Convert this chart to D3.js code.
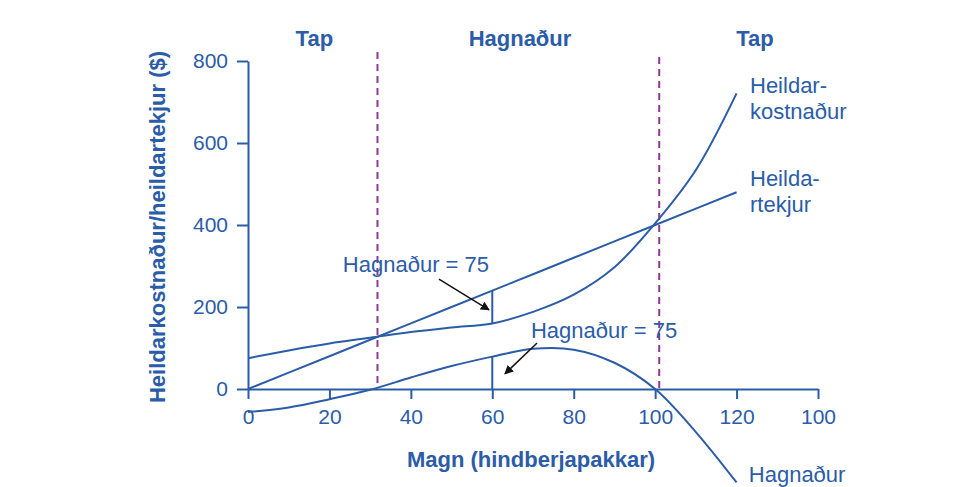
<!DOCTYPE html>
<html>
<head>
<meta charset="utf-8">
<script src="https://cdn.jsdelivr.net/npm/d3@7/dist/d3.min.js"></script>
<style>
  html, body { margin: 0; padding: 0; background: #ffffff; }
  svg { display: block; font-family: "Liberation Sans", Arial, Helvetica, sans-serif; }
</style>
</head>
<body>
<svg id="chart" width="976" height="487"></svg>
<script>
// ---------- data ----------
const quantity   = [0, 10, 20, 30, 40, 50, 60, 70, 80, 90, 100, 110, 120];
const totalCost  = [75, 94, 111, 125, 139, 150, 160, 188, 230, 297, 404, 534, 721];
const totalRev   = [0, 40, 80, 120, 160, 200, 240, 280, 320, 360, 400, 440, 480];
const profit     = [-56, -45, -25, -2, 28, 56, 79, 98, 96, 64, 0, -105, -228];

const xTickValues = [0, 20, 40, 60, 80, 100, 120, 140];
const xTickLabels = ["0", "20", "40", "60", "80", "100", "120", "100"];
const yTickValues = [0, 200, 400, 600, 800];

const breakEven = [31.8, 101];          // dashed lines
const markQ = 60;                        // "Hagnaður = 75" marker

const regionLabels = [
  { text: "Tap", q: 16.3 },
  { text: "Hagnaður", q: 66.8 },
  { text: "Tap", q: 124.5 }
];
const seriesLabels = [
  { lines: ["Heildar-", "kostnaður"], q: 123.3, v: 722 },
  { lines: ["Heilda-", "rtekjur"], q: 123.3, v: 495 },
  { lines: ["Hagnaður"], q: 123.0, v: -226 }
];
const annotations = [
  { text: "Hagnaður = 75", q: 23.3, v: 285, from: [46.9, 268], to: [59.2, 193] },
  { text: "Hagnaður = 75", q: 69.5, v: 124, from: [71.0, 112], to: [63.1, 37] }
];

// ---------- styles ----------
const BLUE = "#2b5ca8";
const PURPLE = "#8e3a97";

const svg = d3.select("#chart");
const x = d3.scaleLinear().domain([0, 140]).range([248, 818]);
const y = d3.scaleLinear().domain([0, 800]).range([389, 61]);

// defs: arrow head
svg.append("defs").append("marker")
  .attr("id", "arrow")
  .attr("viewBox", "0 0 10 10")
  .attr("refX", 9).attr("refY", 5)
  .attr("markerWidth", 9).attr("markerHeight", 9)
  .attr("markerUnits", "userSpaceOnUse")
  .attr("orient", "auto")
  .append("path")
  .attr("d", "M0,0 L10,5 L0,10 z")
  .attr("fill", "#111");

// ---------- axes ----------
const xAxis = d3.axisBottom(x)
  .tickValues(xTickValues)
  .tickFormat((d, i) => xTickLabels[i])
  .tickSizeInner(10).tickSizeOuter(0).tickPadding(10);
const yAxis = d3.axisLeft(y)
  .tickValues(yTickValues)
  .tickFormat(d3.format("d"))
  .tickSizeInner(11).tickSizeOuter(0).tickPadding(9);

const gx = svg.append("g").attr("transform", `translate(0,${y(0)})`).call(xAxis);
const gy = svg.append("g").attr("transform", `translate(${x(0)},0)`).call(yAxis);
[gx, gy].forEach(g => {
  g.select(".domain").attr("stroke", BLUE).attr("stroke-width", 2);
  g.selectAll(".tick line").attr("stroke", BLUE).attr("stroke-width", 2);
  g.selectAll(".tick text").attr("fill", BLUE).attr("font-size", 21)
    .attr("font-family", "'Liberation Sans', Arial, Helvetica, sans-serif");
});

// axis titles
svg.append("text")
  .attr("x", (x(0) + x(140)) / 2 - 2).attr("y", 467)
  .attr("text-anchor", "middle")
  .attr("font-size", 22).attr("font-weight", "bold").attr("fill", BLUE)
  .text("Magn (hindberjapakkar)");
svg.append("text")
  .attr("transform", `translate(165,${(y(0) + y(800)) / 2 + 2}) rotate(-90)`)
  .attr("text-anchor", "middle")
  .attr("font-size", 22).attr("font-weight", "bold").attr("fill", BLUE)
  .text("Heildarkostnaður/heildartekjur ($)");

// ---------- break-even dashed lines ----------
svg.selectAll(".be").data(breakEven).enter().append("line")
  .attr("x1", d => x(d)).attr("x2", d => x(d))
  .attr("y1", (d, i) => i === 0 ? 52 : 57)
  .attr("y2", (d, i) => i === 0 ? 383 : y(0))
  .attr("stroke", PURPLE).attr("stroke-width", 2)
  .attr("stroke-dasharray", "7,5");

// ---------- curves ----------
const mk = vals => quantity.map((q, i) => [q, vals[i]]);
const lineSmooth = d3.line().x(d => x(d[0])).y(d => y(d[1])).curve(d3.curveCatmullRom.alpha(0.5));
const lineStraight = d3.line().x(d => x(d[0])).y(d => y(d[1]));

svg.append("path").attr("d", lineStraight(mk(totalRev)))
  .attr("fill", "none").attr("stroke", BLUE).attr("stroke-width", 2);
svg.append("path").attr("d", lineSmooth(mk(totalCost)))
  .attr("fill", "none").attr("stroke", BLUE).attr("stroke-width", 2);
svg.append("path").attr("d", lineSmooth(mk(profit)))
  .attr("fill", "none").attr("stroke", BLUE).attr("stroke-width", 2);

// vertical profit markers at q = 60
const mi = quantity.indexOf(markQ);
svg.append("line")
  .attr("x1", x(markQ)).attr("x2", x(markQ))
  .attr("y1", y(totalRev[mi])).attr("y2", y(totalCost[mi]))
  .attr("stroke", BLUE).attr("stroke-width", 2);
svg.append("line")
  .attr("x1", x(markQ)).attr("x2", x(markQ))
  .attr("y1", y(profit[mi])).attr("y2", y(0))
  .attr("stroke", BLUE).attr("stroke-width", 2);

// ---------- labels ----------
svg.selectAll(".region").data(regionLabels).enter().append("text")
  .attr("x", d => x(d.q)).attr("y", 46)
  .attr("text-anchor", "middle")
  .attr("font-size", 22).attr("font-weight", "bold").attr("fill", BLUE)
  .text(d => d.text);

seriesLabels.forEach(s => {
  const t = svg.append("text")
    .attr("x", x(s.q)).attr("y", y(s.v))
    .attr("font-size", 22).attr("fill", BLUE);
  s.lines.forEach((l, i) => {
    t.append("tspan").attr("x", x(s.q)).attr("dy", i === 0 ? 0 : 26).text(l);
  });
});

annotations.forEach(a => {
  svg.append("text")
    .attr("x", x(a.q)).attr("y", y(a.v))
    .attr("font-size", 22).attr("fill", BLUE)
    .text(a.text);
  svg.append("line")
    .attr("x1", x(a.from[0])).attr("y1", y(a.from[1]))
    .attr("x2", x(a.to[0])).attr("y2", y(a.to[1]))
    .attr("stroke", "#111").attr("stroke-width", 1.5)
    .attr("marker-end", "url(#arrow)");
});
</script>
</body>
</html>
